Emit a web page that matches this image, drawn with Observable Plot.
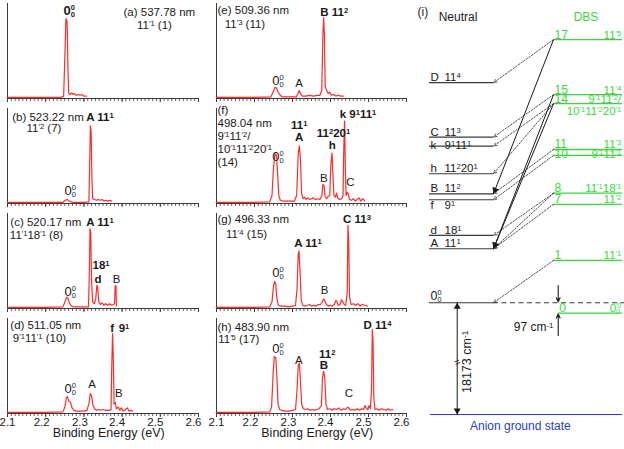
<!DOCTYPE html>
<html><head><meta charset="utf-8">
<script src="https://cdn.jsdelivr.net/npm/d3@7"></script>
<script src="https://cdn.jsdelivr.net/npm/@observablehq/plot@0.6"></script>
<style>
html,body{margin:0;padding:0;background:#fff;}
#fig{position:relative;width:624px;height:449px;overflow:hidden;background:#fff;font-family:"Liberation Sans",Arial,Helvetica,sans-serif;}
#fig > svg{position:absolute;}
</style></head><body><div id="fig"></div>
<script>
// ---------------- data ----------------
const energyTicks = [2.1, 2.2, 2.3, 2.4, 2.5, 2.6];
const energyTickLabels = ["2.1", "2.2", "2.3", "2.4", "2.5", "2.6"];
const axisTitle = "Binding Energy (eV)";

// spectra: [binding energy (eV), relative intensity]
const specA = [[2.100,0.015],[2.150,0.015],[2.200,0.015],[2.240,0.015],[2.247,0.03],[2.250,0.5],[2.253,1.0],[2.256,0.96],[2.258,0.45],[2.260,0.07],[2.264,0.05],[2.268,0.07],[2.272,0.05],[2.276,0.06],[2.280,0.04],[2.285,0.05],[2.290,0.04],[2.295,0.05],[2.300,0.03],[2.307,0.03]];
const specB = [[2.100,0.015],[2.200,0.015],[2.245,0.015],[2.251,0.04],[2.256,0.05],[2.262,0.03],[2.270,0.015],[2.300,0.015],[2.313,0.02],[2.315,0.45],[2.317,0.97],[2.319,0.9],[2.321,0.3],[2.323,0.06],[2.328,0.05],[2.333,0.04],[2.338,0.05],[2.343,0.04],[2.348,0.05],[2.353,0.03],[2.358,0.04],[2.363,0.03],[2.368,0.04],[2.372,0.03]];
const specC = [[2.100,0.015],[2.200,0.015],[2.245,0.02],[2.250,0.08],[2.255,0.14],[2.258,0.13],[2.262,0.07],[2.266,0.04],[2.272,0.02],[2.300,0.02],[2.312,0.02],[2.314,0.4],[2.316,1.0],[2.318,0.95],[2.320,0.35],[2.323,0.08],[2.327,0.06],[2.331,0.12],[2.334,0.29],[2.336,0.27],[2.339,0.08],[2.343,0.05],[2.348,0.07],[2.352,0.04],[2.357,0.06],[2.362,0.04],[2.367,0.06],[2.372,0.04],[2.377,0.05],[2.380,0.06],[2.382,0.29],[2.384,0.28],[2.385,0.03]];
const specD = [[2.100,0.015],[2.200,0.015],[2.245,0.02],[2.250,0.08],[2.254,0.2],[2.257,0.21],[2.261,0.15],[2.265,0.14],[2.269,0.07],[2.274,0.04],[2.280,0.03],[2.290,0.03],[2.300,0.03],[2.308,0.04],[2.313,0.12],[2.317,0.25],[2.320,0.22],[2.324,0.1],[2.328,0.06],[2.333,0.04],[2.338,0.05],[2.343,0.04],[2.350,0.05],[2.356,0.04],[2.362,0.04],[2.368,0.04],[2.371,0.05],[2.373,0.6],[2.375,1.0],[2.377,0.7],[2.379,0.12],[2.382,0.14],[2.385,0.06],[2.390,0.08],[2.394,0.04],[2.398,0.07],[2.403,0.03],[2.409,0.05],[2.414,0.07],[2.418,0.03],[2.423,0.04],[2.427,0.03]];
const specE = [[2.100,0.015],[2.200,0.015],[2.243,0.02],[2.249,0.08],[2.254,0.14],[2.258,0.13],[2.262,0.08],[2.266,0.05],[2.272,0.02],[2.300,0.02],[2.310,0.02],[2.314,0.06],[2.318,0.1],[2.321,0.06],[2.326,0.03],[2.335,0.03],[2.345,0.04],[2.355,0.03],[2.365,0.04],[2.372,0.04],[2.377,0.1],[2.380,0.8],[2.382,1.01],[2.384,0.8],[2.386,0.15],[2.390,0.1],[2.394,0.06],[2.398,0.08],[2.402,0.04],[2.408,0.05],[2.414,0.03],[2.420,0.04],[2.427,0.03],[2.434,0.03]];
const specF = [[2.100,0.015],[2.200,0.015],[2.240,0.02],[2.246,0.1],[2.250,0.45],[2.254,0.62],[2.258,0.6],[2.261,0.35],[2.264,0.1],[2.268,0.04],[2.275,0.03],[2.285,0.03],[2.295,0.03],[2.305,0.03],[2.311,0.1],[2.315,0.62],[2.318,0.72],[2.321,0.55],[2.324,0.12],[2.328,0.06],[2.332,0.08],[2.336,0.05],[2.340,0.07],[2.345,0.05],[2.350,0.06],[2.355,0.07],[2.360,0.05],[2.366,0.06],[2.372,0.05],[2.377,0.09],[2.380,0.24],[2.383,0.22],[2.386,0.08],[2.390,0.06],[2.394,0.09],[2.398,0.1],[2.401,0.5],[2.404,0.63],[2.406,0.4],[2.409,0.1],[2.413,0.08],[2.416,0.13],[2.419,0.07],[2.424,0.05],[2.429,0.06],[2.433,0.09],[2.435,0.7],[2.437,1.03],[2.439,0.45],[2.441,0.1],[2.444,0.14],[2.447,0.12],[2.450,0.05],[2.455,0.04],[2.460,0.06],[2.465,0.03],[2.470,0.05],[2.475,0.07],[2.480,0.03],[2.485,0.06],[2.490,0.03]];
const specG = [[2.100,0.015],[2.200,0.015],[2.240,0.02],[2.246,0.08],[2.250,0.28],[2.253,0.34],[2.256,0.3],[2.259,0.12],[2.263,0.04],[2.270,0.03],[2.280,0.03],[2.290,0.02],[2.300,0.03],[2.308,0.04],[2.312,0.25],[2.315,0.68],[2.317,0.72],[2.320,0.45],[2.323,0.1],[2.327,0.04],[2.333,0.03],[2.340,0.04],[2.345,0.05],[2.350,0.03],[2.356,0.04],[2.362,0.03],[2.368,0.05],[2.374,0.05],[2.378,0.08],[2.382,0.12],[2.385,0.1],[2.389,0.05],[2.395,0.03],[2.400,0.04],[2.405,0.03],[2.410,0.05],[2.414,0.1],[2.417,0.09],[2.420,0.04],[2.425,0.05],[2.429,0.11],[2.432,0.09],[2.436,0.05],[2.440,0.04],[2.444,0.2],[2.446,1.04],[2.448,0.85],[2.450,0.15],[2.454,0.05],[2.460,0.06],[2.466,0.04],[2.472,0.06],[2.478,0.03],[2.484,0.05],[2.490,0.04],[2.497,0.03]];
const specH = [[2.100,0.015],[2.200,0.015],[2.240,0.02],[2.245,0.08],[2.249,0.5],[2.252,0.71],[2.256,0.7],[2.259,0.45],[2.262,0.12],[2.266,0.05],[2.272,0.04],[2.280,0.03],[2.290,0.03],[2.300,0.04],[2.308,0.05],[2.312,0.3],[2.315,0.6],[2.318,0.63],[2.321,0.4],[2.324,0.12],[2.328,0.06],[2.334,0.05],[2.340,0.06],[2.346,0.04],[2.352,0.05],[2.358,0.04],[2.364,0.05],[2.370,0.06],[2.376,0.1],[2.379,0.45],[2.382,0.53],[2.385,0.45],[2.388,0.12],[2.392,0.05],[2.398,0.06],[2.404,0.04],[2.410,0.06],[2.416,0.05],[2.422,0.07],[2.428,0.04],[2.434,0.06],[2.440,0.05],[2.445,0.08],[2.448,0.07],[2.452,0.04],[2.458,0.05],[2.464,0.04],[2.470,0.06],[2.476,0.04],[2.482,0.06],[2.487,0.05],[2.491,0.1],[2.494,0.07],[2.498,0.05],[2.502,0.1],[2.505,0.06],[2.508,0.3],[2.510,1.05],[2.512,0.9],[2.514,0.2],[2.517,0.05],[2.522,0.06],[2.528,0.04],[2.534,0.06],[2.540,0.05],[2.546,0.04],[2.552,0.06],[2.558,0.04],[2.564,0.05]];

// panel labels: [energy, intensity, text, bold, anchor]
const labelsA = [[2.4037,1.075,"(a) 537.78 nm",0,"start"],[2.4848,0.91,"11^{′1} (1)",0,"middle"],[2.2466,1.09,"0^{0}_{0}",1,"start"]];
const labelsB = [[2.1123,1.075,"(b) 523.22 nm",0,"start"],[2.1955,0.94,"11^{′2} (7)",0,"middle"],[2.3421,1.075,"A 11^{1}",1,"middle"],[2.2492,0.16,"0^{0}_{0}",0,"start"]];
const labelsC = [[2.1075,1.08,"(c) 520.17 nm",0,"start"],[2.1759,0.91,"11^{′1}18^{′1} (8)",0,"middle"],[2.3421,1.08,"A 11^{1}",1,"middle"],[2.3448,0.54,"18^{1}",1,"middle"],[2.3369,0.37,"d",1,"middle"],[2.3853,0.37,"B",0,"middle"],[2.2492,0.21,"0^{0}_{0}",0,"start"]];
const labelsD = [[2.1075,1.10,"(d) 511.05 nm",0,"start"],[2.1838,0.94,"9^{′1}11^{′1} (10)",0,"middle"],[2.3741,1.06,"f",1,"middle"],[2.405,1.06,"9^{1}",1,"middle"],[2.3217,0.37,"A",0,"middle"],[2.3914,0.25,"B",0,"middle"],[2.2492,0.31,"0^{0}_{0}",0,"start"]];
const labelsE = [[2.1026,1.10,"(e) 509.36 nm",0,"start"],[2.175,0.93,"11^{′3} (11)",0,"middle"],[2.4097,1.08,"B 11^{2}",1,"middle"],[2.2466,0.225,"0^{0}_{0}",0,"start"],[2.3176,0.19,"A",0,"middle"]];
const labelsF = [[2.1026,1.16,"(f)",0,"start"],[2.1026,1.0,"498.04 nm",0,"start"],[2.1026,0.84,"9^{′1}11^{′2}/",0,"start"],[2.1026,0.68,"10^{′1}11^{′2}20^{′1}",0,"start"],[2.1026,0.52,"(14)",0,"start"],[2.3176,0.975,"11^{1}",1,"middle"],[2.3176,0.83,"A",1,"middle"],[2.4079,0.88,"11^{2}20^{1}",1,"middle"],[2.4045,0.725,"h",1,"middle"],[2.4724,1.12,"k 9^{1}11^{1}",1,"middle"],[2.2466,0.58,"0^{0}_{0}",0,"start"],[2.3824,0.31,"B",0,"middle"],[2.4526,0.27,"C",0,"middle"]];
const labelsG = [[2.1026,1.12,"(g) 496.33 nm",0,"start"],[2.179,0.93,"11^{′4} (15)",0,"middle"],[2.3408,0.81,"A 11^{1}",1,"middle"],[2.4697,1.12,"C 11^{3}",1,"middle"],[2.3842,0.225,"B",0,"middle"],[2.2466,0.44,"0^{0}_{0}",0,"start"]];
const labelsH = [[2.1026,1.08,"(h) 483.90 nm",0,"start"],[2.1587,0.93,"11^{′5} (17)",0,"middle"],[2.5237,1.10,"D 11^{4}",1,"middle"],[2.3913,0.74,"11^{2}",1,"middle"],[2.3824,0.60,"B",1,"middle"],[2.3166,0.66,"A",0,"middle"],[2.2466,0.81,"0^{0}_{0}",0,"start"],[2.4482,0.25,"C",0,"middle"]];

// energy-level diagram (cm-1 relative to the neutral origin, as drawn)
const neutralLetters = ["D", "C", "k", "h", "B", "f", "d", "A"];
const neutralModes = ["11^{4}", "11^{3}", "9^{1}11^{1}", "11^{2}20^{1}", "11^{2}", "9^{1}", "18^{1}", "11^{1}"];
const neutralEnergies = [2066, 1555, 1470, 1211, 1023, 967, 632, 507];
const dbsNumbers = [17, 15, 14, 11, 10, 8, 7, 1, 0];
const dbsModes = ["11^{′5}", "11^{′4}", "9^{′1}11^{′2}/", "11^{′3}", "9^{′1}11^{′1}", "11^{′1}18^{′1}", "11^{′2}", "11^{′1}", "0^{′0}_{0}"];
const dbsEnergies = [2470, 1953, 1869, 1439, 1383, 1029, 923, 397, -97];
const dbs14Second = "10^{′1}11^{′2}20^{′1}";
const dottedFrom = [17, 15, 14, 14, 11, 10, 8, 8, 7, 1];
const dottedTo = ["D", "C", "k", "h", "B", "f", "d", "A", "A", "0"];
const solidFrom = [17, 15, 14];
const solidTo = ["B", "A", "A"];
const originEnergy = 0;
const anionEnergy = -18173;
const dbsBinding = -97;

// ---------------- drawing ----------------
const FONT = '"Liberation Sans", Arial, Helvetica, sans-serif';
const RED = "#ff2b2b", INK = "#1a1a1a", AXIS = "#3a3a3a", GREEN = "#3fd43f", BLUE = "#2b3ec8";
const minorTicks = d3.range(0, 51).map(i => +(2.1 + i * 0.01).toFixed(2));
const tickShift = [0, -4, -4, -5, -5, -5];
const fig = document.getElementById("fig");
const NS = "http://www.w3.org/2000/svg";

function richText(svg) {
  svg.querySelectorAll("text").forEach(t => {
    const s = t.textContent;
    if (!/[\^_]\{/.test(s)) return;
    const parts = s.split(/(\^\{[^}]*\}|_\{[^}]*\})/).filter(p => p !== "");
    while (t.firstChild) t.removeChild(t.firstChild);
    for (let i = 0; i < parts.length; i++) {
      const p = parts[i];
      const ts = document.createElementNS(NS, "tspan");
      if (p.startsWith("^{")) {
        const stacked = parts[i + 1] && parts[i + 1].startsWith("_{");
        ts.textContent = p.slice(2, -1);
        ts.setAttribute("font-size", stacked ? "58%" : "66%");
        ts.setAttribute("baseline-shift", stacked ? "0.64em" : "0.42em");
        t.appendChild(ts);
        if (stacked) {
          const q = parts[++i];
          const sub = document.createElementNS(NS, "tspan");
          sub.textContent = q.slice(2, -1);
          sub.setAttribute("font-size", "58%");
          sub.setAttribute("baseline-shift", "-0.3em");
          t.appendChild(sub);
          sub.setAttribute("dx", -ts.getComputedTextLength());
        }
      } else if (p.startsWith("_{")) {
        ts.textContent = p.slice(2, -1);
        ts.setAttribute("font-size", "66%");
        ts.setAttribute("baseline-shift", "-0.3em");
        t.appendChild(ts);
      } else {
        ts.textContent = p;
        t.appendChild(ts);
      }
    }
  });
}

function place(svg, left, top) {
  svg.style.left = left + "px";
  svg.style.top = top + "px";
  fig.appendChild(svg);
  richText(svg);
}

function panel(spec, labels, col, row) {
  const axisY = [98, 203, 308, 413][row];
  const bottom = row === 3;
  const marks = [
    Plot.ruleX([2.1], {stroke: AXIS, strokeWidth: 1}),
    Plot.axisX(minorTicks, {tickSize: 3, tickFormat: () => "", color: AXIS, strokeWidth: 0.8, label: null}),
    Plot.axisX(energyTicks, {tickSize: 4, tickFormat: () => "", color: AXIS, label: null}),
    Plot.ruleY([0], {stroke: AXIS, strokeWidth: 1}),
    Plot.line(spec, {x: d => d[0], y: d => d[1], stroke: RED, strokeWidth: 1.2, strokeLinejoin: "round"}),
    ...labels.map(l => Plot.text([l], {
      x: d => d[0], y: d => d[1], text: d => d[2],
      fontWeight: l[3] ? "bold" : "normal", textAnchor: l[4], lineAnchor: "middle",
      fontSize: l[2].startsWith("0^") ? 13 : 11.5, fill: INK
    }))
  ];
  if (bottom) {
    energyTicks.forEach((t, i) => marks.push(Plot.text([t], {
      x: d => d, frameAnchor: "bottom", dy: 8.5, dx: tickShift[i], text: () => energyTickLabels[i],
      fontSize: 11.5, fill: INK, lineAnchor: "middle"
    })));
    marks.push(Plot.text([axisTitle], {x: () => 2.365, frameAnchor: "bottom", dy: 19.5, fontSize: 12.5, fill: INK, lineAnchor: "middle"}));
  }
  const svg = Plot.plot({
    width: col === 0 ? 205 : 204,
    height: bottom ? 136 : 108,
    marginLeft: 7, marginRight: 7, marginTop: 5, marginBottom: bottom ? 36 : 8,
    style: {background: "transparent", overflow: "visible", fontFamily: FONT, color: INK},
    x: {domain: [2.1, 2.6], axis: null},
    y: {domain: [0, 95 / 80], axis: null},
    marks
  });
  place(svg, col === 0 ? 0 : 209, axisY - 100);
}

panel(specA, labelsA, 0, 0);
panel(specB, labelsB, 0, 1);
panel(specC, labelsC, 0, 2);
panel(specD, labelsD, 0, 3);
panel(specE, labelsE, 1, 0);
panel(specF, labelsF, 1, 1);
panel(specG, labelsG, 1, 2);
panel(specH, labelsH, 1, 3);

// ----- panel (i): level diagram (broken energy axis below the DBS origin) -----
const brk = e => e >= dbsBinding ? e : dbsBinding + (e - dbsBinding) * 0.05267;
const X_DOM = [0, 3.0156], Y_DOM = [-1049, 2800];
const W_I = 214, H_I = 449, ML = 19, MR = 2, MT = 4, MB = 35;
const sx = d3.scaleLinear(X_DOM, [ML, W_I - MR]);
const sy = d3.scaleLinear(Y_DOM, [H_I - MB, MT]);
const xN0 = 0, xN1 = 1, xD0 = 1.9375, xD1 = 3.0156, xD00 = 2.011, xLab = 2.995;

const lvlN = neutralLetters.map((l, i) => ({letter: l, mode: neutralModes[i], e: brk(neutralEnergies[i])}));
const lvlD = dbsNumbers.map((n, i) => ({n, mode: dbsModes[i], e: brk(dbsEnergies[i])}));
const eN = name => name === "0" ? brk(originEnergy) : lvlN.find(d => d.letter === name).e;
const eD = n => lvlD.find(d => d.n === n).e;
const dotted = dottedFrom.map((f, i) => ({x1: xD0, y1: eD(f), x2: xN1, y2: eN(dottedTo[i])}));
const solid = solidFrom.map((f, i) => ({x1: xD0, y1: eD(f), x2: xN1, y2: eN(solidTo[i])}));
const vArrow = [{x1: 0.433, y1: brk(anionEnergy), x2: 0.433, y2: brk(originEnergy)}, {x1: 0.433, y1: brk(originEnergy), x2: 0.433, y2: brk(anionEnergy)}];

function head(a, r) {
  const px1 = sx(a.x1), py1 = sy(a.y1), px2 = sx(a.x2), py2 = sy(a.y2);
  const L = Math.hypot(px2 - px1, py2 - py1), ux = (px2 - px1) / L, uy = (py2 - py1) / L;
  const off = 1.555 * r;
  return {x: sx.invert(px2 - ux * off), y: sy.invert(py2 - uy * off), rotate: Math.atan2(ux, -uy) * 180 / Math.PI};
}
const RH = 2.6;
const heads = [...solid, ...vArrow].map(a => head(a, RH));
const nOff = {k: [2.5, "bottom"], f: [1, "top"]};
const dOff = {10: 3};
const midBreak = -560;

const svgI = Plot.plot({
  width: W_I, height: H_I, marginLeft: ML, marginRight: MR, marginTop: MT, marginBottom: MB,
  style: {background: "transparent", overflow: "visible", fontFamily: FONT, color: INK},
  x: {domain: X_DOM, axis: null},
  y: {domain: Y_DOM, axis: null},
  marks: [
    // anion ground state
    Plot.ruleY([brk(anionEnergy)], {x1: () => 0.015, x2: () => xD1, stroke: BLUE, strokeWidth: 1.2}),
    Plot.text(["Anion ground state"], {x: () => 1.42, y: () => brk(anionEnergy), dy: 7, lineAnchor: "top", fill: BLUE, fontSize: 12}),
    // neutral levels
    Plot.ruleY(lvlN, {y: "e", x1: () => xN0, x2: () => xN1, stroke: AXIS, strokeWidth: 1.2}),
    Plot.ruleY([brk(originEnergy)], {x1: () => xN0, x2: () => xN1, stroke: AXIS, strokeWidth: 1.2}),
    Plot.ruleY([brk(originEnergy)], {x1: () => xN1, x2: () => 3.05, stroke: AXIS, strokeWidth: 1, strokeDasharray: "5,3.5"}),
    ...lvlN.map(d => Plot.text([d], {x: () => xN0, y: "e", text: "letter", dx: 1, textAnchor: "start",
      lineAnchor: (nOff[d.letter] || [0, "bottom"])[1], dy: nOff[d.letter] ? nOff[d.letter][0] : -1.5, fontSize: 11.5, fill: INK})),
    ...lvlN.map(d => Plot.text([d], {x: () => xN0, y: "e", text: "mode", dx: 15, textAnchor: "start",
      lineAnchor: (nOff[d.letter] || [0, "bottom"])[1], dy: nOff[d.letter] ? nOff[d.letter][0] : -1.5, fontSize: 11.5, fill: INK})),
    Plot.text(["0^{0}_{0}"], {x: () => xN0, y: () => brk(originEnergy), dx: 1, dy: -2.5, textAnchor: "start", lineAnchor: "bottom", fontSize: 12.5, fill: INK}),
    // DBS levels
    Plot.ruleY(lvlD.filter(d => d.n > 0), {y: "e", x1: () => xD0, x2: () => xD1, stroke: GREEN, strokeWidth: 1.3}),
    Plot.ruleY(lvlD.filter(d => d.n === 0), {y: "e", x1: () => xD00, x2: () => xD1, stroke: GREEN, strokeWidth: 1.3}),
    ...lvlD.map(d => Plot.text([d], {x: () => d.n === 0 ? xD00 : xD0, y: "e", text: d => String(d.n), dx: 1, textAnchor: "start",
      lineAnchor: "bottom", dy: dOff[d.n] !== undefined ? dOff[d.n] : -1, fontSize: 12, fill: GREEN})),
    ...lvlD.map(d => Plot.text([d], {x: () => xLab, y: "e", text: "mode", textAnchor: "end",
      lineAnchor: "bottom", dy: dOff[d.n] !== undefined ? dOff[d.n] : -1, fontSize: 11.5, fill: GREEN})),
    Plot.text([dbs14Second], {x: () => xLab, y: () => eD(14), textAnchor: "end", lineAnchor: "top", dy: 3, fontSize: 11.5, fill: GREEN}),
    // autodetachment arrows
    Plot.arrow(dotted, {x1: "x1", y1: "y1", x2: "x2", y2: "y2", stroke: AXIS, strokeWidth: 0.9, strokeDasharray: "1.6,1.6", headLength: 6, headAngle: 50}),
    Plot.link(solid, {x1: "x1", y1: "y1", x2: "x2", y2: "y2", stroke: INK, strokeWidth: 1}),
    // binding-energy arrow
    Plot.link([vArrow[0]], {x1: "x1", y1: "y1", x2: "x2", y2: "y2", stroke: INK, strokeWidth: 1}),
    Plot.dot(heads, {x: "x", y: "y", rotate: "rotate", symbol: "triangle", r: RH, fill: INK, stroke: "none"}),
    Plot.text(["="], {x: () => 0.433, y: () => midBreak, fontSize: 10, rotate: -25, fill: INK}),
    Plot.text(["18173 cm^{-1}"], {x: () => 0.589, y: () => midBreak + 5, rotate: -90, fontSize: 12.5, fill: INK}),
    // 97 cm-1 gap
    Plot.arrow([{x1: xD00, y1: 162, x2: xD00, y2: brk(originEnergy)}], {x1: "x1", y1: "y1", x2: "x2", y2: "y2", stroke: INK, strokeWidth: 1.1, headLength: 6, headAngle: 50, insetEnd: 1}),
    Plot.arrow([{x1: xD00, y1: -307, x2: xD00, y2: brk(dbsBinding)}], {x1: "x1", y1: "y1", x2: "x2", y2: "y2", stroke: INK, strokeWidth: 1.1, headLength: 6, headAngle: 50, insetEnd: 1}),
    Plot.text(["97 cm^{-1}"], {x: () => xD0, y: () => -232, textAnchor: "end", fontSize: 12, fill: INK}),
    // titles
    Plot.text(["(i)"], {x: () => -0.1875, y: () => 2726, textAnchor: "start", fontSize: 12, fill: INK}),
    Plot.text(["Neutral"], {x: () => 0.445, y: () => 2679, fontSize: 12, fill: INK}),
    Plot.text(["DBS"], {x: () => 2.445, y: () => 2679, fontSize: 12, fill: GREEN})
  ]
});
place(svgI, 410, 0);
</script>
</body></html>
